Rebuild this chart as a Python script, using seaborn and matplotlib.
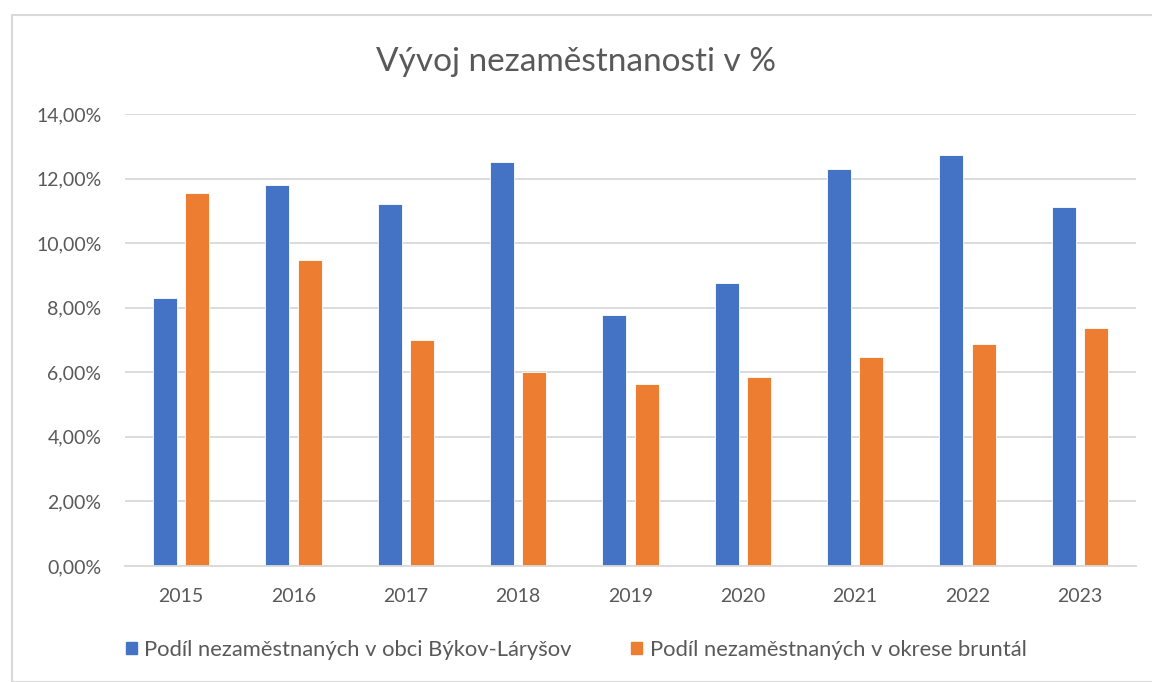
import matplotlib
matplotlib.use("Agg")
import matplotlib.pyplot as plt
import matplotlib.patches as mpatches
from matplotlib.ticker import FuncFormatter, MultipleLocator
import seaborn as sns
import pandas as pd

years = ["2015", "2016", "2017", "2018", "2019", "2020", "2021", "2022", "2023"]
obec = [8.31, 11.80, 11.20, 12.52, 7.78, 8.78, 12.31, 12.72, 11.11]
okres = [11.56, 9.47, 7.00, 6.02, 5.63, 5.86, 6.46, 6.88, 7.38]
series_names = ["Podíl nezaměstnaných v obci Býkov-Láryšov",
                "Podíl nezaměstnaných v okrese bruntál"]
title = "Vývoj nezaměstnanosti v %"
colors = ["#4472C4", "#ED7D31"]

df = pd.DataFrame({
    "year": years * 2,
    "value": obec + okres,
    "series": [series_names[0]] * len(years) + [series_names[1]] * len(years),
})

sns.set_theme(style="white")
plt.rcParams["font.family"] = ["Lato", "DejaVu Sans"]

fig = plt.figure(figsize=(11.52, 6.82), dpi=100)
ax = fig.add_axes([125 / 1152, 1 - 566 / 682, (1136 - 125) / 1152, (566 - 114) / 682])

sns.barplot(data=df, x="year", y="value", hue="series", order=years,
            hue_order=series_names, palette=colors, saturation=1, width=0.57, gap=0.25,
            edgecolor="white", linewidth=0.6, ax=ax, legend=False)

ax.set_ylim(0, 14)
ax.set_xlim(-0.5, 8.5)
ax.yaxis.set_major_locator(MultipleLocator(2))
ax.yaxis.set_major_formatter(FuncFormatter(lambda v, p: f"{v:.2f}".replace(".", ",") + "%"))
ax.grid(axis="y", color="#D9D9D9", linewidth=1.3)
ax.set_axisbelow(True)
for s in ["top", "right", "left"]:
    ax.spines[s].set_visible(False)
ax.spines["bottom"].set_color("#D9D9D9")
ax.spines["bottom"].set_linewidth(1.3)
ax.set_xlabel("")
ax.set_ylabel("")
ax.tick_params(axis="both", length=0, labelsize=14, colors="#595959")
ax.tick_params(axis="x", pad=16)
ax.tick_params(axis="y", pad=17)

fig.text(0.5, 1 - 62 / 682, title, ha="center", va="center", fontsize=24, color="#595959")

handles = [mpatches.Patch(color=c, label=n) for c, n in zip(colors, series_names)]
fig.legend(handles=handles, loc="center", bbox_to_anchor=(0.5, 1 - 650 / 682), ncol=2,
           frameon=False, fontsize=15.8, labelcolor="#595959", handlelength=0.5,
           handleheight=0.5, handletextpad=0.35, columnspacing=2.7)

border = mpatches.Rectangle((12 / 1152, 0), 1.2, 1 - 15 / 682, transform=fig.transFigure,
                            fill=False, edgecolor="#D9D9D9", linewidth=1.5)
fig.patches.append(border)

fig.savefig("out.png", dpi=100)
